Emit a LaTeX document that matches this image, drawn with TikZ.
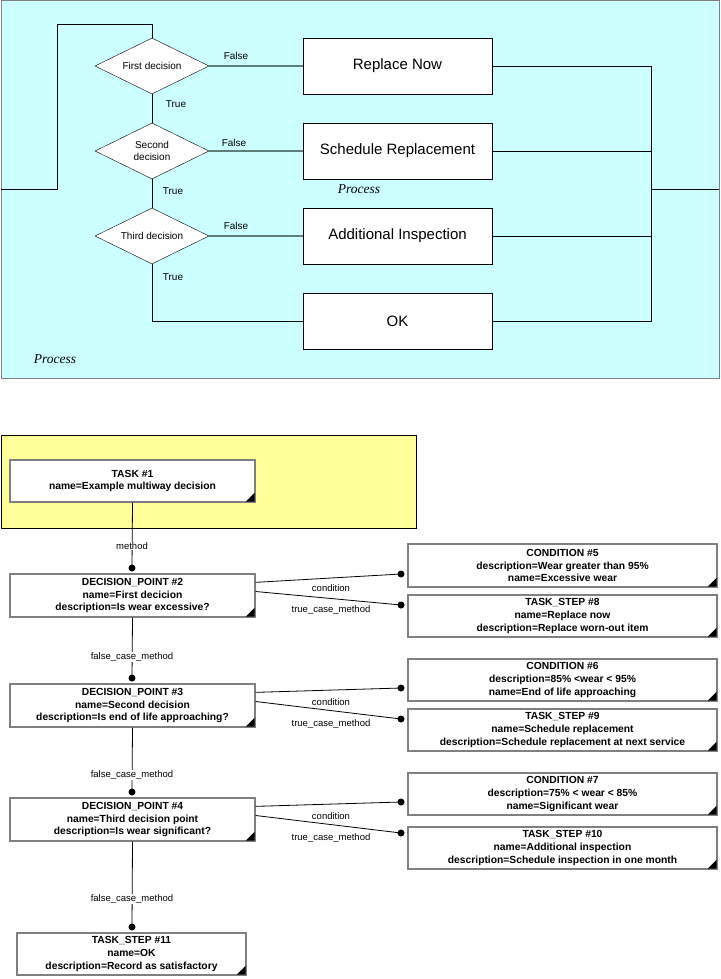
\documentclass[tikz,border=0pt]{standalone}
\usepackage{fontspec}
\setmainfont{Liberation Sans}
\newfontfamily\serifit{Liberation Serif}
\usetikzlibrary{shapes.geometric}
\definecolor{cy}{HTML}{CCFFFF}
\definecolor{yl}{HTML}{FFFF99}
\definecolor{gl}{HTML}{5F7F7F}
\begin{document}
\begin{tikzpicture}[x=1pt,y=-1pt,
 dia/.style={diamond,draw=black,fill=white,minimum width=114pt,minimum height=56pt,aspect=2,inner sep=0pt,font=\fontsize{10}{12}\selectfont,align=center},
 pbox/.style={draw=black,fill=white,minimum width=189pt,minimum height=56pt,font=\fontsize{15}{17}\selectfont},
 lbl/.style={font=\fontsize{10}{11}\selectfont},
 gline/.style={draw=gl,line width=1.2pt},
 ubox/.style={draw=gray,line width=1.3pt,fill=white,align=center,inner sep=1pt,font=\bfseries\fontsize{10.3}{12.8}\selectfont},
 con/.style={draw=black,line width=0.8pt},
 dot/.style={circle,fill=black,inner sep=0pt,minimum size=7pt},
 cl/.style={font=\fontsize{9.5}{10}\selectfont,fill=white,inner sep=0.5pt}]
\useasboundingbox (0,0) rectangle (720,979);
\fill[white] (0,0) rectangle (720,979);
% top process
\draw[gray,fill=cy] (1,0.5) rectangle (719,378);
\node[dia] (d1) at (152,66) {First decision};
\node[dia] (d2) at (152,151) {Second\\decision};
\node[dia] (d3) at (152,236) {Third decision};
\node[pbox] (b1) at (397.5,66) {Replace Now};
\node[pbox] (b2) at (397.5,151) {Schedule Replacement};
\node[pbox] (b3) at (397.5,236) {Additional Inspection};
\node[pbox] (b4) at (397.5,321) {OK};
\coordinate (in) at (1,189);
\coordinate (out) at (719,189);
\draw (in) -- (57,189) -- (57,24) -- (152,24) -- (d1.north);
\draw (d1.south) -- (d2.north);
\draw (d2.south) -- (d3.north);
\draw (d3.south) |- (b4.west);
\draw[gline] (d1.east) -- (b1.west);
\draw[gline] (d2.east) -- (b2.west);
\draw[gline] (d3.east) -- (b3.west);
\draw (b1.east) -- (651,66) -- (651,321) -- (b4.east);
\draw (b2.east) -- (651,151);
\draw (b3.east) -- (651,236);
\draw (651,189) -- (out);
\node[lbl] at (236,56) {False};
\node[lbl] at (234,143) {False};
\node[lbl] at (236,226) {False};
\node[lbl] at (176,104) {True};
\node[lbl] at (173,191) {True};
\node[lbl] at (173,277) {True};
\node[font=\serifit\itshape\fontsize{13.5}{15}\selectfont] at (359,189) {Process};
\node[font=\serifit\itshape\fontsize{13.5}{15}\selectfont] at (55,359) {Process};
% bottom
\draw[black,fill=yl] (1,435) rectangle (416,528);
\def\corner#1{\fill (#1.south east)++(-1,-1) -- ++(0,-9) -- ++(-9,9) -- cycle;}
\node[ubox,minimum width=245pt,minimum height=42pt] (t1) at (132.5,481) {TASK \#1\\name=Example multiway decision};
\node[ubox,minimum width=245pt,minimum height=43pt] (p2) at (132.5,595.5) {DECISION\_POINT \#2\\name=First decicion\\description=Is wear excessive?};
\node[ubox,minimum width=245pt,minimum height=43pt] (p3) at (132.5,705.5) {DECISION\_POINT \#3\\name=Second decision\\description=Is end of life approaching?};
\node[ubox,minimum width=245pt,minimum height=43pt] (p4) at (132.5,819.5) {DECISION\_POINT \#4\\name=Third decision point\\description=Is wear significant?};
\node[ubox,minimum width=229pt,minimum height=42pt] (s11) at (131.5,954) {TASK\_STEP \#11\\name=OK\\description=Record as satisfactory};
\node[ubox,minimum width=309pt,minimum height=43pt] (c5) at (562.5,565.5) {CONDITION \#5\\description=Wear greater than 95\%\\name=Excessive wear};
\node[ubox,minimum width=309pt,minimum height=42pt] (s8) at (562.5,616) {TASK\_STEP \#8\\name=Replace now\\description=Replace worn-out item};
\node[ubox,minimum width=309pt,minimum height=42pt] (c6) at (562.5,680) {CONDITION \#6\\description=85\% <wear < 95\%\\name=End of life approaching};
\node[ubox,minimum width=309pt,minimum height=42pt] (s9) at (562.5,730) {TASK\_STEP \#9\\name=Schedule replacement\\description=Schedule replacement at next service};
\node[ubox,minimum width=309pt,minimum height=42pt] (c7) at (562.5,794) {CONDITION \#7\\description=75\% < wear < 85\%\\name=Significant wear};
\node[ubox,minimum width=309pt,minimum height=42pt] (s10) at (562.5,848) {TASK\_STEP \#10\\name=Additional inspection\\description=Schedule inspection in one month};
\foreach \n in {t1,p2,p3,p4,s11,c5,s8,c6,s9,c7,s10} {\corner{\n}}
\coordinate (k2) at (132,568); \coordinate (k3) at (132,678);
\coordinate (k4) at (132,792); \coordinate (k11) at (132,927);
\draw[con] (t1.south) -- (k2); \node[dot] at (k2) {};
\draw[con] (p2.south) -- (k3); \node[dot] at (k3) {};
\draw[con] (p3.south) -- (k4); \node[dot] at (k4) {};
\draw[con] (p4.south) -- (k11); \node[dot] at (k11) {};
\node[cl] at (132,546) {method};
\node[cl] at (132,657) {false\_case\_method};
\node[cl] at (132,775) {false\_case\_method};
\node[cl] at (132,899) {false\_case\_method};
\foreach \p/\c/\s/\y in {p2/c5/s8/574, p3/c6/s9/688, p4/c7/s10/802} {
 \coordinate (a) at (401,\y); \coordinate (b) at (401,\y+31);
 \draw[con] ([yshift=-9pt]\p.north east) -- (a); \node[dot] at (a) {};
 \draw[con] ([yshift=4pt]\p.east) -- (b); \node[dot] at (b) {};
 \node[font=\fontsize{9.5}{10}\selectfont] at (331,\y+14) {condition};
 \node[font=\fontsize{9.5}{10}\selectfont] at (331,\y+36) {true\_case\_method};
}
\end{tikzpicture}
\end{document}
